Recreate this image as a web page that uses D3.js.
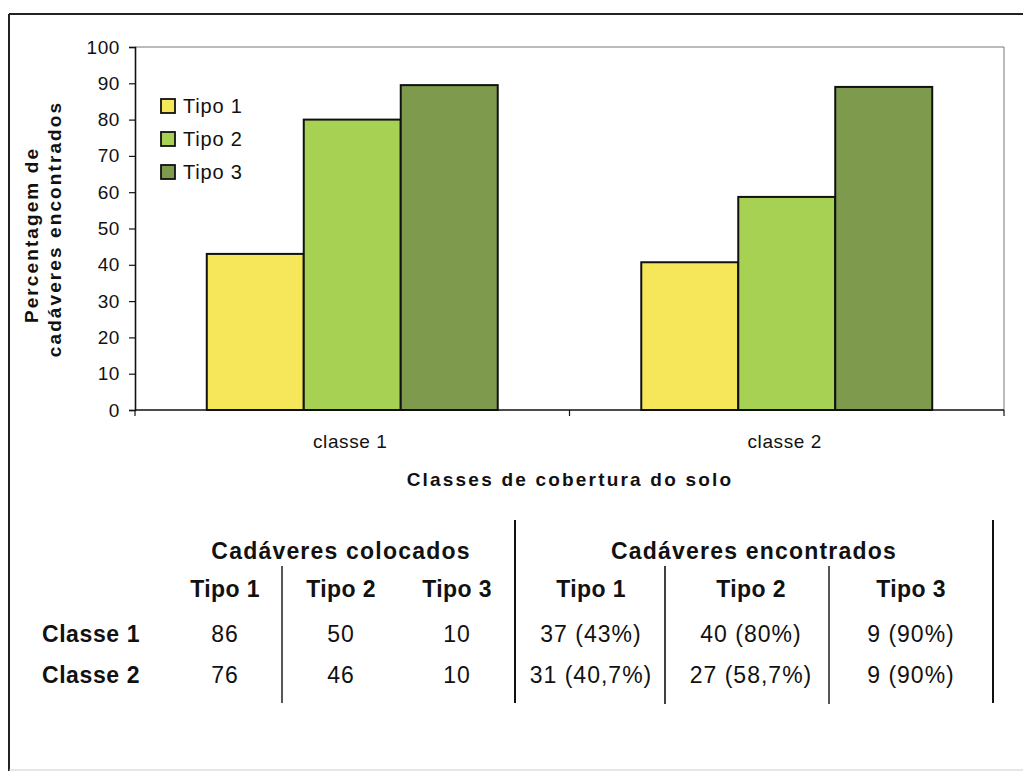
<!DOCTYPE html>
<html>
<head>
<meta charset="utf-8">
<script src="https://cdn.jsdelivr.net/npm/d3@7"></script>
<style>
  html, body { margin: 0; padding: 0; background: #fff; }
  svg { display: block; font-family: "Liberation Sans", Arial, sans-serif; }
</style>
</head>
<body>
<svg id="chart" width="1023" height="773"></svg>
<script>
// ---- data ----
const categories = ["classe 1", "classe 2"];
const series = ["Tipo 1", "Tipo 2", "Tipo 3"];
const tipo1 = [43, 40.7];
const tipo2 = [80, 58.7];
const tipo3 = [89.5, 89];
const yTicks = [0, 10, 20, 30, 40, 50, 60, 70, 80, 90, 100];
const colors = ["#f6e75a", "#a6d152", "#7e9a4c"];

const groupHeaders = ["Cadáveres colocados", "Cadáveres encontrados"];
const colHeaders = ["Tipo 1", "Tipo 2", "Tipo 3", "Tipo 1", "Tipo 2", "Tipo 3"];
const rowLabels = ["Classe 1", "Classe 2"];
const rowClasse1 = ["86", "50", "10", "37 (43%)", "40 (80%)", "9 (90%)"];
const rowClasse2 = ["76", "46", "10", "31 (40,7%)", "27 (58,7%)", "9 (90%)"];

const svg = d3.select("#chart");

// outer frame
svg.append("line").attr("x1", 9).attr("x2", 1023).attr("y1", 14).attr("y2", 14)
  .attr("stroke", "#222").attr("stroke-width", 2);
svg.append("line").attr("x1", 9).attr("x2", 9).attr("y1", 14).attr("y2", 771)
  .attr("stroke", "#222").attr("stroke-width", 2);
svg.append("line").attr("x1", 9).attr("x2", 1023).attr("y1", 770).attr("y2", 770)
  .attr("stroke", "#ccc").attr("stroke-width", 1);

// scales
const plot = { left: 135, right: 1004, top: 47, bottom: 410 };
const x0 = d3.scaleBand().domain(categories).range([plot.left, plot.right]).paddingInner(0).paddingOuter(0);
const x1 = d3.scaleBand().domain(series).range([0, x0.bandwidth()]).paddingInner(0).paddingOuter(0.74);
const y = d3.scaleLinear().domain([0, 100]).range([plot.bottom, plot.top]);

// plot area border (top/right gray)
svg.append("path")
  .attr("d", `M${plot.left},${plot.top}H${plot.right}V${plot.bottom}`)
  .attr("fill", "none").attr("stroke", "#777").attr("stroke-width", 1);

// bars
const rows = categories.map((c, i) => ({ cat: c, vals: [tipo1[i], tipo2[i], tipo3[i]] }));
const g = svg.append("g");
rows.forEach(r => {
  r.vals.forEach((v, j) => {
    g.append("rect")
      .attr("x", x0(r.cat) + x1(series[j]))
      .attr("y", y(v))
      .attr("width", x1.bandwidth())
      .attr("height", y(0) - y(v))
      .attr("fill", colors[j])
      .attr("stroke", "#111")
      .attr("stroke-width", 2);
  });
});

// y axis
const yAxis = d3.axisLeft(y).tickValues(yTicks).tickSize(6).tickPadding(9);
const ya = svg.append("g").attr("transform", `translate(${plot.left},0)`).call(yAxis);
ya.select(".domain").attr("stroke", "#111").attr("stroke-width", 1.6);
ya.selectAll(".tick line").attr("stroke", "#111").attr("stroke-width", 1.2);
ya.selectAll(".tick text").attr("font-size", 19).attr("fill", "#111")
  .attr("font-family", "Liberation Sans, Arial, sans-serif").style("letter-spacing", "0.6px");

// x axis
const xAxis = d3.axisBottom(x0).tickSize(0).tickPadding(0).tickFormat(() => "");
const xa = svg.append("g").attr("transform", `translate(0,${plot.bottom})`).call(xAxis);
xa.select(".domain").remove();
svg.append("line").attr("x1", plot.left).attr("x2", plot.right).attr("y1", plot.bottom).attr("y2", plot.bottom)
  .attr("stroke", "#111").attr("stroke-width", 1.6);
const xTickPos = [plot.left, x0(categories[1]), plot.right];
xTickPos.forEach(px => {
  svg.append("line").attr("x1", px).attr("x2", px).attr("y1", plot.bottom).attr("y2", plot.bottom + 6)
    .attr("stroke", "#111").attr("stroke-width", 1.2);
});
categories.forEach(c => {
  svg.append("text").attr("x", x0(c) + x0.bandwidth() / 2 - 2).attr("y", 448)
    .attr("text-anchor", "middle").attr("font-size", 19).attr("fill", "#111")
    .style("letter-spacing", "0.6px").text(c);
});

// axis titles
svg.append("text").attr("x", 570).attr("y", 486).attr("text-anchor", "middle")
  .attr("font-size", 19).attr("font-weight", "bold").attr("fill", "#111")
  .style("letter-spacing", "2.2px").text("Classes de cobertura do solo");

const yt = svg.append("text")
  .attr("font-size", 19).attr("font-weight", "bold").attr("fill", "#111")
  .attr("text-anchor", "middle").style("letter-spacing", "2.1px");
yt.append("tspan").attr("x", -235).attr("y", 38).text("Percentagem de");
yt.append("tspan").attr("x", -229).attr("y", 61).text("cadáveres encontrados");
yt.attr("transform", "rotate(-90)");

// legend
const legY = [106, 139, 172];
series.forEach((s, i) => {
  svg.append("rect").attr("x", 161).attr("y", legY[i] - 7).attr("width", 14).attr("height", 14)
    .attr("fill", colors[i]).attr("stroke", "#111").attr("stroke-width", 1.8);
  svg.append("text").attr("x", 183).attr("y", legY[i] + 7).attr("font-size", 20)
    .attr("fill", "#111").style("letter-spacing", "0.8px").text(s);
});

// table
const colX = [225, 341, 457, 591, 751, 911];
const t = svg.append("g").attr("fill", "#111");
groupHeaders.forEach((h, i) => {
  t.append("text").attr("x", [341, 754][i]).attr("y", 559).attr("text-anchor", "middle")
    .attr("font-size", 23).attr("font-weight", "bold").style("letter-spacing", "1.2px").text(h);
});
colHeaders.forEach((h, i) => {
  t.append("text").attr("x", colX[i]).attr("y", 597).attr("text-anchor", "middle")
    .attr("font-size", 23).attr("font-weight", "bold").style("letter-spacing", "0.4px").text(h);
});
const rowY = [642, 683];
[rowClasse1, rowClasse2].forEach((row, r) => {
  t.append("text").attr("x", 91).attr("y", rowY[r]).attr("text-anchor", "middle")
    .attr("font-size", 23).attr("font-weight", "bold").style("letter-spacing", "0.6px").text(rowLabels[r]);
  row.forEach((v, i) => {
    t.append("text").attr("x", colX[i]).attr("y", rowY[r]).attr("text-anchor", "middle")
      .attr("font-size", 23).style("letter-spacing", "1px").text(v);
  });
});
// table lines
[[515, 520, 703, 2], [993, 520, 703, 2], [282, 566, 703, 1.4], [665, 566, 704, 1.6], [829, 566, 704, 1.4]]
  .forEach(([lx, y1, y2, w]) => {
    svg.append("line").attr("x1", lx).attr("x2", lx).attr("y1", y1).attr("y2", y2)
      .attr("stroke", "#111").attr("stroke-width", w);
  });
</script>
</body>
</html>
